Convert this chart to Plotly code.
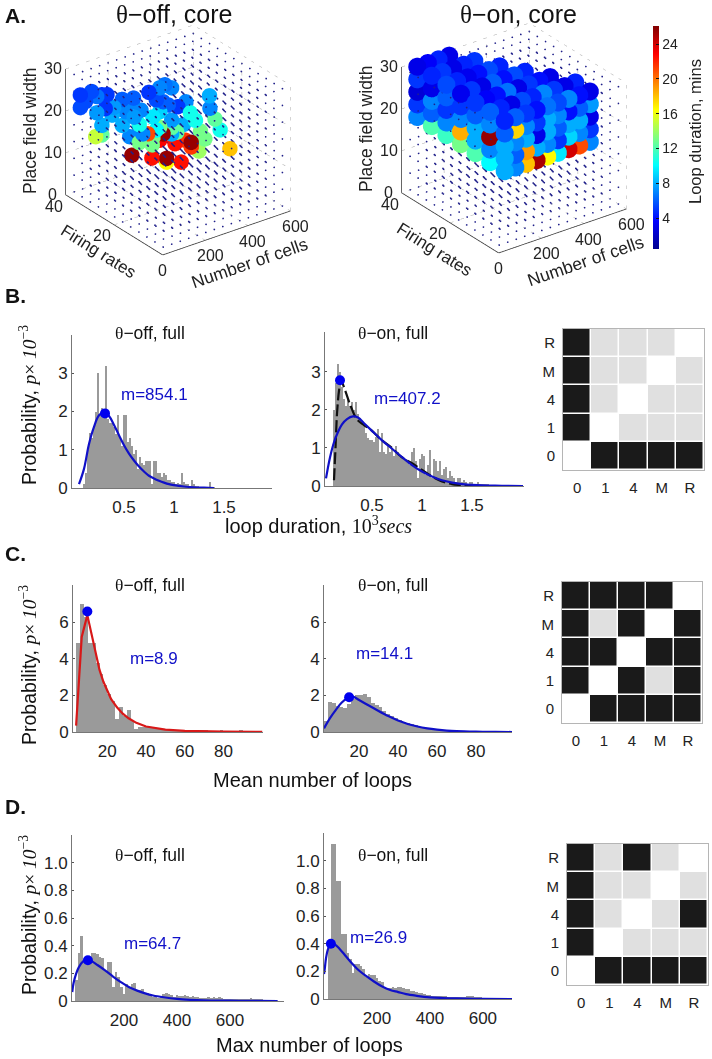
import plotly.graph_objects as go

W, H = 712, 1059

# ---------- Panel A data ----------
AX_CELLS = [0, 200, 400, 600]
AX_FR = [0, 20, 40]
AX_W = [0, 10, 20, 30]
CB_TICKS = [4, 8, 12, 16, 20, 24]
grid_cells = [40, 80, 120, 160, 200, 240, 280, 320, 360, 400, 440, 480, 520, 560, 600]
grid_fr = [3.3, 6.7, 10, 13.3, 16.7, 20, 23.3, 26.7, 30, 33.3, 36.7, 40]
grid_w = [0, 4, 8, 12, 16, 20, 24, 28]

off_cells = [23,47,23,76,100,124,148,100,140,180,172,220,249,236,124,220,255,124,95,265,
             136,139,171,208,259,283,315,243,275,299,344,382,227,259,163,179,315,371,243,315,
             163,224,227,259,315,339,203,259,331,379,222,291,291,360,275,
             266,290,356,358,406,382,314,334,306,270,270,452]
off_fr = [36]*20 + [24]*35 + [12]*12
off_w = [24.9,22.9,21.9,24.8,23.2,23.2,22.8,19.3,19.6,19.2,17.5,20.4,19.0,17.2,15.9,14.2,10.9,13.6,13.7,6.3,
         26.5,21.9,23.0,26.6,26.8,27.1,25.8,24.2,23.2,22.0,20.8,21.3,20.4,21.1,19.7,17.2,18.1,16.1,17.0,14.8,
         15.4,13.8,15.5,17.4,16.3,14.8,16.8,14.3,12.2,12.2,10.7,9.4,8.5,7.3,15.5,
         25.0,22.8,27.5,24.5,18.5,21.5,19.8,17.6,15.2,16.8,17.9,13.2]
off_dur = [5,5.5,5.5,5.5,6.5,5,5,7.5,5,7.5,8,6,7,7,8,8,7,12.5,15,25.5,
           6,7.5,7,5,7,6.5,7,5.5,6,6,5,7,9.5,9,10.5,7,7.5,8,10,8,
           13,13,13,13,12.5,12.5,21,23,22.5,21.5,22.5,25.5,16.5,22.5,25.5,
           10.5,10.5,8,7,10.5,12.5,13,13,14,21.5,25.5,18]

on_cells_cols = [50, 100, 150, 200, 250, 300, 350, 400, 450]
on_fr_rows = [38, 32, 26, 20, 14, 8, 2]
on_w_layers = [30, 27, 24, 21, 18]
on_w30 = [[3.0,3.5,4.5,3.0],
          [4.5,5.0,3.0,4.5,5.0],
          [5.5,4.5,3.2,4.0,5.5,4.5],
          [3.2,5.0,3.0,6.0,4.0,5.5,4.5],
          [5.0,3.5,4.0,6.5,3.0,5.0,4.0,3.0],
          [6.0,4.5,3.0,5.5,4.5,7.0,5.0,3.0,4.5],
          [4.5,6.0,5.0,4.0,6.5,5.5,7.0,4.0,3.0]]
on_w27 = [[5,2.5,4,5],
          [3,6,4,5,6],
          [6,4,5,3,6,7],
          [5,6.5,4,7,5,6,4],
          [6,5,7,3.5,6,5,7,6],
          [7,6,5,7.5,4,6.5,7,5,6],
          [6,17.5,7,5,8,7,4,6,7.5]]
on_w24 = [[2.5,6,5,6],
          [7,5,6,7,5],
          [5,7,6,8,6,5],
          [7,8,6,5,8,7,6],
          [8,6,7,8,6,8,5,7],
          [25.5,7,8,6,8,9,7,8,6],
          [8,7,8,3,8,6,8,8,3]]
on_w21 = [[5,7,6,7],
          [6,8,7,5,7],
          [7,6,8,7,6,8],
          [18.5,7,7,8,7,6,8],
          [8,6,7,5,9,8,7,6],
          [7,8,9,5,7,8,9,7,6],
          [8,6,19,8,7,5,9,7,5]]
on_w18 = [[7,8,7,8],
          [12,7,8,7,6],
          [11.5,8,6,8,7,5],
          [13,9,7,5,8,6,7],
          [12,6,8,4,7,3.5,8,6],
          [10,8,3,7,14,5,18,7,8],
          [8,7,18,25,16.5,9.5,24,21,7]]

# ---------- Panel B data ----------
b_off_x = [0.10,0.12,0.14,0.16,0.18,0.20,0.22,0.24,0.26,0.28,0.30,0.32,0.34,0.36,0.38,0.40,0.42,0.44,0.46,0.48,
           0.50,0.52,0.54,0.56,0.58,0.60,0.62,0.64,0.66,0.68,0.70,0.72,0.74,0.76,0.78,0.80,0.82,0.84,0.86,0.88,
           0.90,0.92,0.94,0.96,0.98,1.00,1.02,1.04,1.06,1.08,1.10,1.12,1.14,1.16,1.18,1.20,1.22,1.24,1.26,1.28,
           1.30,1.32,1.34,1.36,1.38,1.40]
b_off_y = [0.1,0.4,1.0,1.45,1.3,1.6,2.0,3.0,1.9,2.1,2.0,3.2,1.8,1.7,1.7,1.6,1.4,1.9,1.3,1.1,
           1.9,1.9,1.2,1.3,1.1,0.9,1.0,0.5,0.8,0.65,0.6,0.7,0.7,0.7,0.1,0.7,0.7,0.4,0.4,0.3,
           0.4,0.35,0.2,0.2,0.15,0.15,0.1,0.12,0.1,0.4,0.15,0.1,0.1,0.05,0.2,0.1,0.05,0.05,0.02,0.02,
           0.02,0.02,0.02,0.15,0.02,0.02]
b_off_cx = [0.05,0.1,0.15,0.2,0.25,0.3,0.35,0.4,0.45,0.5,0.55,0.6,0.65,0.7,0.75,0.8,0.85,0.9,0.95,1.0,1.1,1.2,1.3,1.4]
b_off_cy = [0.1,0.5,1.15,1.6,1.9,1.98,1.88,1.65,1.38,1.12,0.9,0.72,0.56,0.43,0.32,0.25,0.19,0.14,0.1,0.075,0.04,0.02,0.01,0.0]
b_on_x = [0.12,0.14,0.16,0.18,0.20,0.22,0.24,0.26,0.28,0.30,0.32,0.34,0.36,0.38,0.40,0.42,0.44,0.46,0.48,0.50,
          0.52,0.54,0.56,0.58,0.60,0.62,0.64,0.66,0.68,0.70,0.72,0.74,0.76,0.78,0.80,0.82,0.84,0.86,0.88,0.90,
          0.92,0.94,0.96,0.98,1.00,1.02,1.04,1.06,1.08,1.10,1.12,1.14,1.16,1.18,1.20,1.22,1.24,1.26,1.28,1.30,
          1.32,1.34,1.36,1.38,1.40,1.42,1.44,1.46,1.48,1.50,1.52,1.54,1.56,1.58,1.60,1.62,1.64,1.66]
b_on_y = [2.0,2.7,3.2,3.0,2.6,2.3,2.1,2.3,2.1,2.2,2.0,2.2,1.9,1.8,1.7,1.6,1.4,1.25,1.2,1.2,
          1.15,1.3,1.5,0.9,1.4,0.9,0.85,1.1,0.9,1.0,0.8,1.05,0.9,0.75,0.8,0.7,0.7,0.6,0.55,0.9,
          1.0,0.65,0.2,0.7,0.85,0.8,0.3,0.55,0.95,0.2,0.7,0.65,0.4,0.65,0.3,0.45,0.5,0.2,0.4,0.25,
          0.2,0.1,0.2,0.2,0.1,0.15,0.1,0.05,0.1,0.1,0.05,0.05,0.1,0.05,0.03,0.05,0.03,0.03]
b_on_cx = [0.04,0.08,0.12,0.16,0.2,0.25,0.31,0.36,0.42,0.5,0.6,0.7,0.8,0.9,1.0,1.1,1.2,1.3,1.4,1.5,1.6,1.7,1.8,2.01]
b_on_cy = [0.2,0.75,1.15,1.42,1.62,1.76,1.83,1.8,1.65,1.45,1.2,0.98,0.76,0.55,0.38,0.25,0.15,0.09,0.05,0.03,0.015,0.01,0.005,0.0]
b_on_dx = [0.12,0.135,0.15,0.17,0.19,0.22,0.28,0.35,0.42,0.5,0.6,0.7,0.8,0.9,1.0,1.1,1.2,1.3,1.4,1.55]
b_on_dy = [0.15,1.0,1.9,2.5,2.78,2.6,2.15,1.75,1.6,1.45,1.2,1.0,0.75,0.6,0.42,0.25,0.12,0.05,0.02,0.0]

# ---------- Panel C data ----------
c_off_x = [5,7,9,11,13,15,17,19,21,23,25,27,29,31,33,35,37,39,41,43,45,47,49,51,53,55,57,59,61,63,65,67,69,71,73,75,77,79,81,83,85,87,89,91]
c_off_y = [4.9,7.0,6.3,4.9,4.9,3.8,3.2,2.6,2.1,1.7,0.7,1.35,0.9,1.2,0.6,0.15,0.3,0.25,0.25,0.2,0.15,0.2,0.15,0.1,0.1,0.08,0.06,0.06,0.05,0.05,0.05,0.1,0.08,0.06,0.05,0.05,0.05,0.1,0.03,0.02,0.02,0.02,0.07,0.02]
c_off_cx = [3.9,6.8,9.7,12,14,16,18,20,22,25,28,31,35,40,45,50,60,70,80,100]
c_off_cy = [0.35,5.2,6.4,5.3,4.2,3.4,2.75,2.25,1.8,1.35,1.0,0.75,0.5,0.3,0.2,0.13,0.06,0.03,0.02,0.01]
c_on_x = [3,5,7,9,11,13,15,17,19,21,23,25,27,29,31,33,35,37,39,41,43,45,47,49,51,53,55,57,59,61,63,65,67,69,71,73,75,77,79]
c_on_y = [0.6,1.65,1.6,1.45,1.35,1.3,1.55,1.8,2.0,2.05,2.1,1.9,1.6,1.5,1.35,1.15,1.0,0.85,0.75,0.65,0.55,0.5,0.45,0.38,0.3,0.25,0.2,0.15,0.12,0.1,0.08,0.06,0.05,0.04,0.03,0.02,0.02,0.01,0.01]
c_on_cx = [2,5,8,11,14,17,20,25,30,35,40,45,50,55,60,65,70,80,90,99]
c_on_cy = [0.2,0.75,1.2,1.6,1.85,1.92,1.75,1.45,1.15,0.87,0.63,0.44,0.3,0.2,0.13,0.08,0.05,0.02,0.005,0.0]

# ---------- Panel D data ----------
d_off_x = list(range(20, 770, 10))
d_off_y = [0.15,0.35,0.47,0.3,0.28,0.3,0.345,0.35,0.34,0.32,0.31,0.22,0.28,0.28,0.1,0.21,0.17,0.1,0.05,0.12,
           0.1,0.12,0.13,0.08,0.08,0.09,0.06,0.06,0.05,0.03,0.03,0.02,0.03,0.05,0.06,0.05,0.04,0.03,0.04,0.035,
           0.035,0.04,0.035,0.03,0.035,0.03,0.03,0.02,0.02,0.02,0.03,0.025,0.03,0.02,0.03,0.02,0.015,0.012,0.01,0.01,
           0.01,0.01,0.01,0.015,0.012,0.015,0.02,0.015,0.01,0.01,0.01,0.005,0.005,0.005,0.005]
d_off_cx = [5,10,20,30,45,60,80,100,130,160,190,220,250,280,310,350,400,450,500,600,700,780]
d_off_cy = [0.065,0.13,0.2,0.245,0.285,0.295,0.285,0.26,0.22,0.175,0.135,0.1,0.075,0.055,0.04,0.027,0.015,0.008,0.004,0.002,0.001,0.0]
d_on_x = list(range(20, 610, 10))
d_on_y = [0.38,1.12,1.12,0.85,0.85,0.47,0.47,0.33,0.29,0.19,0.25,0.25,0.24,0.22,0.16,0.18,0.17,0.17,0.15,0.13,
          0.12,0.09,0.08,0.08,0.09,0.08,0.085,0.09,0.08,0.07,0.07,0.06,0.055,0.05,0.045,0.04,0.035,0.03,0.03,0.025,
          0.025,0.02,0.02,0.02,0.02,0.015,0.015,0.015,0.015,0.015,0.015,0.015,0.02,0.02,0.02,0.015,0.01,0.01,0.005]
d_on_cx = [0,3,8,15,25,40,60,80,100,130,160,190,220,250,280,310,350,400,450,500,600,710]
d_on_cy = [0.18,0.22,0.3,0.36,0.4,0.395,0.36,0.315,0.27,0.21,0.165,0.125,0.09,0.065,0.05,0.035,0.023,0.012,0.007,0.004,0.001,0.0]

# ---------- Matrices ----------
mat_labels = ["0", "1", "4", "M", "R"]
mat_b = [[0,2,2,2,2],[2,0,1,1,1],[2,1,0,1,1],[2,1,1,0,1],[2,1,1,1,0]]
mat_c = [[0,2,2,2,2],[2,0,2,1,2],[2,2,0,2,2],[2,1,2,0,2],[2,2,2,2,0]]
mat_d = [[0,2,2,2,2],[2,0,1,1,1],[2,1,0,1,2],[2,1,1,0,1],[2,1,2,1,0]]

# ---------- helpers ----------
FONT = "Liberation Sans"
JET = [[0, "rgb(0,0,143)"], [0.125, "rgb(0,0,255)"], [0.375, "rgb(0,255,255)"],
       [0.625, "rgb(255,255,0)"], [0.875, "rgb(255,0,0)"], [1, "rgb(128,0,0)"]]
fig = go.Figure()
layout = dict(width=W, height=H, margin=dict(l=0, r=0, t=0, b=0, pad=0, autoexpand=False), paper_bgcolor="white",
              plot_bgcolor="white", showlegend=False, bargap=0, font=dict(family=FONT, color="#111"))
annots = []


def xd(l, r):
    return [l / W, r / W]


def yd(t, b):
    return [1 - b / H, 1 - t / H]


def text(x, y, s, size=14, color="#111", angle=0, xanchor="center"):
    annots.append(dict(x=x / W, y=1 - y / H, xref="paper", yref="paper", text=s, showarrow=False,
                       font=dict(size=size, color=color, family=FONT), textangle=angle,
                       xanchor=xanchor, yanchor="middle"))


TH = "<span style=\"font-family:'Liberation Serif'\">θ</span>"
YT = ("Probability, <span style=\"font-family:'Liberation Serif'\"><i>p</i>× <i>10</i>"
      "<sup>−3</sup></span>")

axis_n = [0]


def hist(box, xr, yr, xt, yt, ytl, bars_x, bars_y, bw, curves, peak):
    axis_n[0] += 1
    n = axis_n[0]
    xn, yn = f"x{n}", f"y{n}"
    l, r, t, b = box
    layout[f"xaxis{n}"] = dict(domain=xd(l, r), range=xr, anchor=yn, showgrid=False, zeroline=False,
                               showline=True, linecolor="#777", linewidth=1, ticks="", tickmode="array",
                               tickvals=xt, ticktext=[str(v) for v in xt], ticklabelstandoff=4,
                               tickfont=dict(size=17, color="#222"))
    layout[f"yaxis{n}"] = dict(domain=yd(t, b), range=yr, anchor=xn, showgrid=False, zeroline=False,
                               showline=True, linecolor="#777", linewidth=1, ticks="inside", ticklen=2,
                               tickcolor="#555", tickmode="array", tickvals=yt, ticktext=ytl,
                               tickfont=dict(size=17, color="#222"))
    fig.add_trace(go.Bar(x=bars_x, y=bars_y, width=bw, marker=dict(color="#9a9a9a", line=dict(width=0)),
                         xaxis=xn, yaxis=yn, hoverinfo="skip"))
    for cx, cy, col, dash, shape in curves:
        fig.add_trace(go.Scatter(x=cx, y=cy, mode="lines", line=dict(color=col, width=2.2, dash=dash, shape=shape),
                                 xaxis=xn, yaxis=yn, hoverinfo="skip"))
    fig.add_trace(go.Scatter(x=[peak[0]], y=[peak[1]], mode="markers", marker=dict(color="#0000ee", size=10),
                             xaxis=xn, yaxis=yn, hoverinfo="skip"))


def matrix(box, z):
    axis_n[0] += 1
    n = axis_n[0]
    xn, yn = f"x{n}", f"y{n}"
    l, r, t, b = box
    common = dict(showgrid=False, zeroline=False, showline=True, mirror=True, linecolor="#b5b5b5", linewidth=1,
                  ticks="", tickfont=dict(size=15, color="#222"), type="category", ticklabelstandoff=4,
                  categoryorder="array", categoryarray=mat_labels)
    layout[f"xaxis{n}"] = dict(domain=xd(l, r), anchor=yn, **common)
    layout[f"yaxis{n}"] = dict(domain=yd(t, b), anchor=xn, **common)
    fig.add_trace(go.Heatmap(x=mat_labels, y=mat_labels, z=z, zmin=0, zmax=2, xgap=1.5, ygap=1.5, showscale=False,
                             colorscale=[[0, "#ffffff"], [0.5, "#e0e0e0"], [1, "#1a1a1a"]],
                             xaxis=xn, yaxis=yn, hoverinfo="skip"))


BLUE, RED, BLK = "#1010c8", "#d81818", "#111111"
# Panel B
hist((72, 272, 335, 488), [-0.02, 1.98], [0, 4], [0.5, 1, 1.5], [0, 1, 2, 3], ["0", "1", "2", "3"],
     b_off_x, b_off_y, 0.02, [(b_off_cx, b_off_cy, BLUE, "solid", "spline")], (0.31, 1.95))
hist((325, 524, 332, 486), [0.03, 2.02], [0, 4.05], [0.5, 1, 1.5], [0, 1, 2, 3], ["0", "1", "2", "3"],
     b_on_x, b_on_y, 0.02, [(b_on_dx, b_on_dy, BLK, "12px,4px", "spline"), (b_on_cx, b_on_cy, BLUE, "solid", "spline")],
     (0.18, 2.78))
# Panel C
hist((73, 263, 585, 732), [2.3, 100.4], [0, 8.05], [20, 40, 60, 80], [0, 2, 4, 6], ["0", "2", "4", "6"],
     c_off_x, c_off_y, 2, [(c_off_cx, c_off_cy, RED, "solid", "linear")], (9.7, 6.6))
hist((324, 512, 585, 732), [2, 98.5], [0, 8.05], [20, 40, 60, 80], [0, 2, 4, 6], ["0", "2", "4", "6"],
     c_on_x, c_on_y, 2, [(c_on_cx, c_on_cy, BLUE, "solid", "spline")], (14.9, 1.9))
# Panel D
dyt = [0, 0.2, 0.4, 0.6, 0.8, 1.0]
dyl = ["0", "0.2", "0.4", "0.6", "0.8", "1.0"]
hist((72, 284, 835, 1001), [4, 804], [0, 1.2], [200, 400, 600], dyt, dyl,
     d_off_x, d_off_y, 10, [(d_off_cx, d_off_cy, BLUE, "solid", "spline")], (64, 0.295))
hist((324, 512, 833, 999), [0, 710], [0, 1.2], [200, 400, 600], dyt, dyl,
     d_on_x, d_on_y, 10, [(d_on_cx, d_on_cy, BLUE, "solid", "spline")], (26, 0.4))
# Matrices
matrix((563, 704, 329, 470), mat_b)
matrix((562, 702, 582, 723), mat_c)
matrix((567, 708, 844, 985), mat_d)

# ---------- 3D panels ----------
CMIN, CMAX = 0.44, 26.07
lat_x, lat_y, lat_z = [], [], []
for c in grid_cells:
    for f in grid_fr:
        for w in grid_w:
            lat_x.append(c)
            lat_y.append(f)
            lat_z.append(w)

on_x, on_y, on_z, on_c = [], [], [], []
for w, tab in zip(on_w_layers, [on_w30, on_w27, on_w24, on_w21, on_w18]):
    for f, row in zip(on_fr_rows, tab):
        for c, d in zip(on_cells_cols, row):
            on_x.append(c)
            on_y.append(f)
            on_z.append(w)
            on_c.append(d)


def seg(pairs):
    xs, ys, zs = [], [], []
    for a, b in pairs:
        xs += [a[0], b[0], None]
        ys += [a[1], b[1], None]
        zs += [a[2], b[2], None]
    return xs, ys, zs


cm, fm, wm = AX_CELLS[-1], AX_FR[-1], AX_W[-1]
solid = [((0, fm, 0), (0, fm, wm)), ((0, fm, 0), (0, 0, 0)), ((0, 0, 0), (cm, 0, 0))]
dotted = [((cm, 0, 0), (cm, fm, 0)), ((cm, fm, 0), (0, fm, 0)), ((cm, 0, 0), (cm, 0, wm)), ((cm, fm, 0), (cm, fm, wm)),
          ((0, fm, wm), (cm, fm, wm)), ((cm, fm, wm), (cm, 0, wm))]
for v in AX_W[1:-1]:
    dotted += [((0, fm, v), (cm, fm, v)), ((cm, fm, v), (cm, 0, v))]
for v in AX_CELLS[1:-1]:
    dotted += [((v, 0, 0), (v, fm, 0)), ((v, fm, 0), (v, fm, wm))]
dotted += [((0, AX_FR[1], 0), (cm, AX_FR[1], 0)), ((cm, AX_FR[1], 0), (cm, AX_FR[1], wm))]

K = 1.18


def scene(name, dom, px, py, pz, pc, cb, msize):
    sx_ = dict(showgrid=False, showline=False, zeroline=False, showticklabels=False, showbackground=False,
               showspikes=False, title=dict(text=""), ticks="")
    layout[name] = dict(
        domain=dict(x=xd(dom[0], dom[1]), y=yd(dom[2], dom[3])),
        xaxis=dict(range=[0, cm], **sx_), yaxis=dict(range=[0, fm], **sx_), zaxis=dict(range=[0, wm], **sx_),
        aspectmode="manual", aspectratio=dict(x=1 * K, y=1.02 * K, z=0.89 * K),
        camera=dict(eye=dict(x=-0.53, y=-0.711, z=0.462), up=dict(x=0, y=0, z=1), center=dict(x=0, y=0, z=0),
                    projection=dict(type="orthographic")),
        bgcolor="rgba(0,0,0,0)",
        annotations=[])
    ann = layout[name]["annotations"]

    def sa(x, y, z, s, dx, dy, size=16, angle=0):
        ann.append(dict(x=x, y=y, z=z, text=s, showarrow=False, xshift=dx, yshift=-dy, textangle=angle,
                        font=dict(size=size, color="#222", family=FONT)))

    for v in AX_W:
        sa(0, fm, v, str(v), -13, 0)
    sa(0, 40, 0, "40", -12, 12)
    sa(0, 20, 0, "20", -12, 11)
    sa(0, 0, 0, "0", 0, 16)
    for v in AX_CELLS[1:]:
        sa(v, 0, 0, str(v), 5, 16)
    sa(0, 20, 0, "Firing rates", -16, 27, 17, 32)
    sa(300, 0, 0, "Number of cells", 23, 31, 17.5, -19)
    sa(0, fm, 15, "Place field width", -35, 0, 17.5, -90)

    x, y, z = seg(solid)
    fig.add_trace(go.Scatter3d(x=x, y=y, z=z, mode="lines", line=dict(color="#333", width=1.5), scene=name, hoverinfo="skip"))
    x, y, z = seg(dotted)
    fig.add_trace(go.Scatter3d(x=x, y=y, z=z, mode="lines", line=dict(color="#aaa", width=1, dash="dot"), scene=name, hoverinfo="skip"))
    fig.add_trace(go.Scatter3d(x=lat_x, y=lat_y, z=lat_z, mode="markers", scene=name, hoverinfo="skip",
                               marker=dict(size=1.0, color="#20208a", line=dict(width=0))))
    m = dict(size=msize, color=pc, colorscale=JET, cmin=CMIN, cmax=CMAX, line=dict(width=0), opacity=1, showscale=cb)
    if cb:
        m["colorbar"] = dict(x=653 / W, xanchor="left", xpad=0, ypad=0, thickness=6, thicknessmode="pixels",
                             len=223 / H, lenmode="fraction", y=1 - 249 / H, yanchor="bottom", tickvals=CB_TICKS,
                             ticks="inside", ticklen=3, tickcolor="#111", outlinewidth=0, tickprefix="\u00a0\u00a0\u00a0",
                             tickfont=dict(size=14, color="#222", family=FONT))
    fig.add_trace(go.Scatter3d(x=px, y=py, z=pz, mode="markers", marker=m, scene=name, hoverinfo="skip"))


scene("scene", (8, 348, 4.5, 274.5), off_cells, off_fr, off_w, off_dur, False, 9)
scene("scene2", (344, 684, 2.5, 272.5), on_x, on_y, on_z, on_c, True, 10.5)

# ---------- texts ----------
text(3, 15, "<b>A.</b>", 21, xanchor="left")
text(3, 295, "<b>B.</b>", 21, xanchor="left")
text(3, 553, "<b>C.</b>", 21, xanchor="left")
text(3, 806, "<b>D.</b>", 21, xanchor="left")
text(174, 14, TH + "−off, core", 25)
text(518, 14, TH + "−on, core", 25)
text(695, 132, "Loop duration, mins", 16.5, "#222", -90)
for y in (333, 585, 855):
    text(150, y, TH + "−off, full", 17.5)
    text(393, y, TH + "−on, full", 17.5)
text(154, 394, "m=854.1", 17, BLUE)
text(408, 398, "m=407.2", 17, BLUE)
text(154, 658, "m=8.9", 17, BLUE)
text(384, 653, "m=14.1", 17, BLUE)
text(152, 943, "m=64.7", 17, BLUE)
text(378, 937, "m=26.9", 17, BLUE)
text(28, 405, YT, 19.5, angle=-90)
text(28, 665, YT, 19.5, angle=-90)
text(28, 915, YT, 19.5, angle=-90)
text(318, 525, "loop duration, <span style=\"font-family:'Liberation Serif'\">10<sup>3</sup><i>secs</i></span>", 20)
text(312, 780, "Mean number of loops", 20)
text(309, 1045, "Max number of loops", 20)

layout["annotations"] = annots
fig.update_layout(**layout)
fig.write_html("out.html", config=dict(displayModeBar=False),
               post_script="document.body.style.margin='0';document.body.style.overflow='hidden';")
